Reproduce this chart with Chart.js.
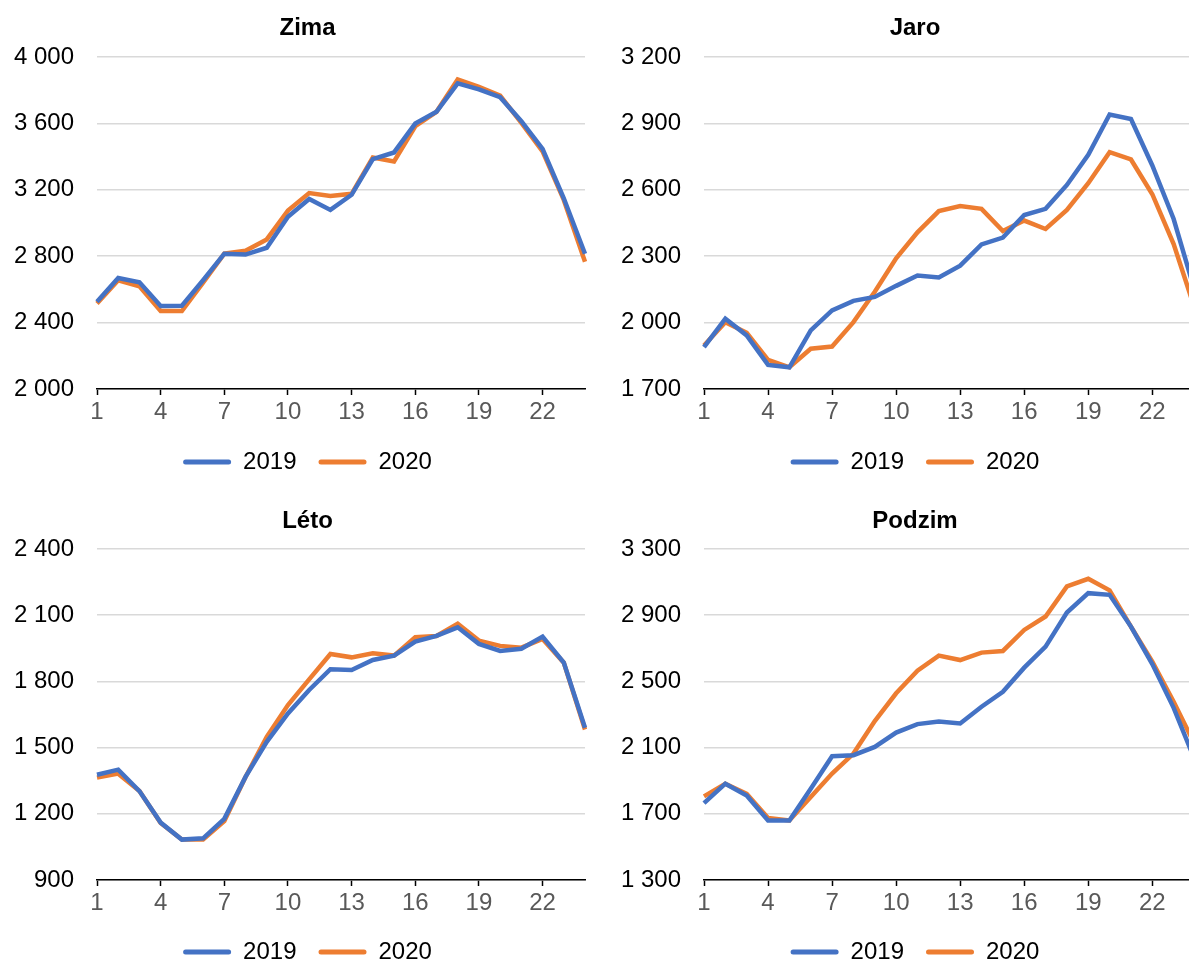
<!DOCTYPE html>
<html lang="cs">
<head>
<meta charset="utf-8">
<title>Průběh zatížení během dne podle ročních období</title>
<script src="https://cdn.jsdelivr.net/npm/chart.js@4.4.1/dist/chart.umd.min.js"></script>
<style>
  html, body { margin: 0; padding: 0; background: #ffffff; overflow: hidden; }
  #wrap { position: relative; width: 1189px; height: 965px; overflow: hidden; background: #ffffff; }
  #wrap canvas { position: absolute; }
</style>
</head>
<body>
<div id="wrap">
  <canvas id="zima"   width="615" height="484" style="left:0px;top:0px"></canvas>
  <canvas id="jaro"   width="630" height="484" style="left:600px;top:0px"></canvas>
  <canvas id="leto"   width="615" height="489" style="left:0px;top:485px"></canvas>
  <canvas id="podzim" width="630" height="489" style="left:600px;top:485px"></canvas>
</div>
<script>
// Hodiny dne
const hours = ['1','2','3','4','5','6','7','8','9','10','11','12',
               '13','14','15','16','17','18','19','20','21','22','23','24'];
const seriesNames = ['2019', '2020'];

// Zima
const zima2019 = [2525, 2669, 2643, 2500, 2502, 2655, 2815, 2810, 2851, 3038, 3145, 3079,
                  3170, 3385, 3425, 3599, 3670, 3841, 3805, 3758, 3613, 3446, 3149, 2815];
const zima2020 = [2515, 2655, 2619, 2470, 2470, 2640, 2815, 2833, 2901, 3075, 3180, 3163,
                  3176, 3395, 3371, 3583, 3670, 3865, 3820, 3768, 3603, 3431, 3139, 2766];
const zimaTicks = { min: 2000, max: 4000, step: 400 };

// Jaro
const jaro2019 = [1889, 2018, 1942, 1809, 1798, 1965, 2055, 2098, 2116, 2166, 2213, 2204,
                  2257, 2353, 2384, 2486, 2514, 2622, 2758, 2940, 2920, 2710, 2468, 2140];
const jaro2020 = [1897, 2002, 1954, 1832, 1798, 1882, 1892, 2002, 2139, 2290, 2408, 2504,
                  2527, 2514, 2414, 2461, 2423, 2509, 2630, 2770, 2737, 2580, 2355, 2060];
const jaroTicks = { min: 1700, max: 3200, step: 300 };

// Léto
const leto2019 = [1377, 1400, 1303, 1160, 1083, 1089, 1177, 1367, 1526, 1655, 1761, 1855,
                  1852, 1897, 1917, 1980, 2006, 2045, 1970, 1938, 1948, 2003, 1885, 1590];
const leto2020 = [1364, 1382, 1303, 1158, 1083, 1083, 1167, 1367, 1549, 1693, 1809, 1924,
                  1909, 1927, 1917, 2000, 2006, 2061, 1985, 1961, 1953, 1992, 1885, 1582];
const letoTicks = { min: 900, max: 2400, step: 300 };

// Podzim
const podzim2019 = [1765, 1882, 1811, 1660, 1660, 1852, 2048, 2054, 2104, 2191, 2242, 2258,
                    2246, 2347, 2437, 2583, 2710, 2916, 3033, 3023, 2831, 2605, 2340, 2022];
const podzim2020 = [1805, 1882, 1821, 1674, 1660, 1801, 1943, 2064, 2260, 2428, 2565, 2656,
                    2629, 2674, 2684, 2811, 2892, 3074, 3120, 3050, 2831, 2619, 2377, 2115];
const podzimTicks = { min: 1300, max: 3300, step: 400 };

const BLUE = '#4472C4';
const ORANGE = '#ED7D31';
const FONT = '"Liberation Sans", Arial, "DejaVu Sans", sans-serif';

// "4 000" – mezera jako oddělovač tisíců
function fmt(v) {
  return String(v).replace(/\B(?=(\d{3})+(?!\d))/g, ' ');
}

function makeChart(id, title, s2019, s2020, yt, layout) {
  const ctx = document.getElementById(id).getContext('2d');
  return new Chart(ctx, {
    type: 'line',
    data: {
      labels: hours,
      datasets: [
        { label: seriesNames[0], data: s2019, borderColor: BLUE, backgroundColor: BLUE,
          borderWidth: 4.5, pointRadius: 0, tension: 0, fill: false },
        { label: seriesNames[1], data: s2020, borderColor: ORANGE, backgroundColor: ORANGE,
          borderWidth: 4.5, pointRadius: 0, tension: 0, fill: false }
      ]
    },
    options: {
      responsive: false,
      animation: false,
      devicePixelRatio: 1,
      layout: { padding: 0 },
      plugins: {
        tooltip: { enabled: false },
        title: {
          display: true,
          text: title,
          color: '#000000',
          font: { family: FONT, size: 24, weight: 'bold', lineHeight: 1.2 },
          padding: { top: layout.titleTop, bottom: layout.titleBottom }
        },
        legend: {
          position: 'bottom',
          labels: {
            color: '#000000',
            font: { family: FONT, size: 24 },
            boxWidth: 48,
            boxHeight: 5,
            padding: 22,
            useBorderRadius: true,
            borderRadius: 2.5,
            generateLabels: (chart) =>
              Chart.defaults.plugins.legend.labels.generateLabels(chart)
                .map(item => Object.assign(item, { lineWidth: 0 }))
          }
        }
      },
      scales: {
        x: {
          type: 'category',
          offset: false,
          afterBuildTicks: (scale) => {
            scale.ticks = scale.ticks.filter(t => t.value % 3 === 0);
          },
          afterFit: (scale) => { scale.height = layout.xHeight; },
          grid: {
            display: true,
            drawOnChartArea: false,
            drawTicks: true,
            tickLength: 6,
            tickWidth: 1.5,
            tickColor: '#000000'
          },
          border: { display: true, color: '#000000', width: 1.5 },
          ticks: {
            autoSkip: false,
            maxRotation: 0,
            padding: 3,
            color: '#595959',
            font: { family: FONT, size: 24 }
          }
        },
        y: {
          type: 'linear',
          position: 'left',
          min: yt.min,
          max: yt.max,
          afterFit: (scale) => { scale.width = layout.yWidth; },
          grid: { color: '#d9d9d9', lineWidth: 1.5, drawTicks: false },
          border: { display: false },
          ticks: {
            stepSize: yt.step,
            padding: 23,
            color: '#000000',
            font: { family: FONT, size: 24 },
            callback: (v) => fmt(v)
          }
        },
        // prázdný pravý okraj grafu
        yRight: {
          type: 'linear',
          position: 'right',
          afterFit: (scale) => { scale.width = layout.rightGap; },
          grid: { display: false },
          border: { display: false },
          ticks: { display: false }
        }
      }
    }
  });
}

const topLeft  = { titleTop: 13.6, titleBottom: 14.6, xHeight: 39, yWidth: 97,  rightGap: 30 };
const topRight = { titleTop: 13.6, titleBottom: 14.6, xHeight: 39, yWidth: 104, rightGap: 35 };
const botLeft  = { titleTop: 21.6, titleBottom: 13.6, xHeight: 38, yWidth: 97,  rightGap: 30 };
const botRight = { titleTop: 21.6, titleBottom: 13.6, xHeight: 38, yWidth: 104, rightGap: 35 };

makeChart('zima',   'Zima',   zima2019,   zima2020,   zimaTicks,   topLeft);
makeChart('jaro',   'Jaro',   jaro2019,   jaro2020,   jaroTicks,   topRight);
makeChart('leto',   'Léto',   leto2019,   leto2020,   letoTicks,   botLeft);
makeChart('podzim', 'Podzim', podzim2019, podzim2020, podzimTicks, botRight);
</script>
</body>
</html>
